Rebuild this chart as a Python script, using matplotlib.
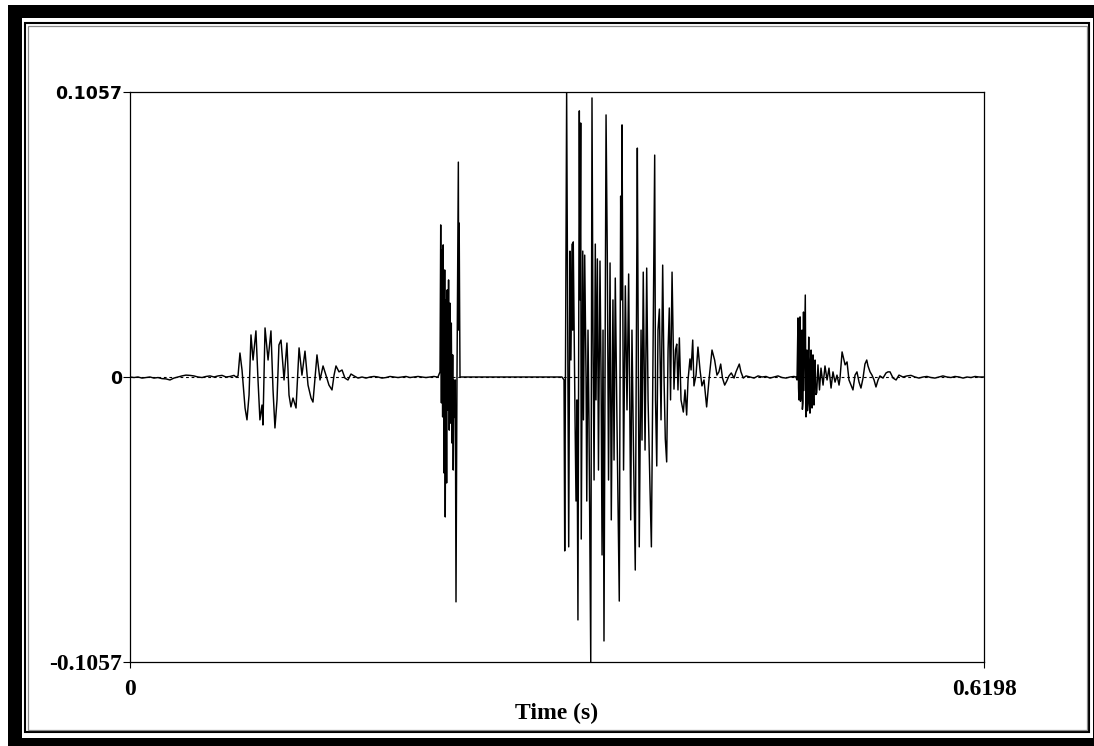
import matplotlib
matplotlib.use("Agg")
import matplotlib.pyplot as plt
from matplotlib.patches import Rectangle
import numpy as np

# Sound waveform, traced as turning points.
# Times are in ms, amplitudes in thousandths of the signal unit.
lead_noise_t = [0, 2.9, 5.8, 8.7, 11.6, 14.5, 17.4, 20.3, 23.2, 26.1, 29.0, 31.9, 34.8, 37.7,
                40.6, 43.5, 46.4, 49.3, 52.3, 55.2, 58.1, 61.0, 63.9, 66.8, 69.7, 72.6, 75.5, 76.9]
lead_noise_v = [0, -0.2, 0, -0.4, -0.2, 0, -0.4, -0.2, -0.6, -0.7, -1.1, -0.4, 0, 0.4,
                0.7, 0.6, 0.4, 0, -0.2, 0.2, 0.4, 0, 0.4, 0.6, 0, 0.2, 0.6, 0]

vowel1_t = [78.4, 79.8, 81.3, 83.5, 84.9, 86.4, 87.8, 89.3, 91.4, 92.9, 94.3, 95.8, 96.5, 98.0,
            100.2, 102.3, 103.8, 105.2, 106.7, 108.1, 109.6, 111.8, 113.9, 115.4, 116.8, 118.3,
            120.5, 122.7, 124.8, 127.0, 129.2, 131.4, 132.8, 135.7, 137.9, 140.1, 142.2, 144.4,
            146.6, 148.1, 149.5, 151.7, 153.9, 156.0, 158.2, 160.4, 162.6, 165.5]
vowel1_v = [0.4, 8.9, 2.6, -11.5, -15.9, -6.7, 15.6, 6.3, 17.1, -1.1, -15.9, -10.4, -17.8, 18.2,
            6.3, 17.1, -4.8, -18.9, -8.5, 11.9, 13.7, -1.1, 12.6, -6.7, -11.1, -7.8,
            -11.5, 10.8, 0.7, 9.6, -3.0, -7.8, -9.3, 8.2, -1.1, 4.1, 0.7, -3.0,
            -4.8, 0.7, 4.1, 1.9, 2.6, -0.4, -1.1, 1.1, 0.4, -0.4]

gap_noise_t = [168.4, 171.3, 174.2, 177.1, 180.0, 182.9, 185.8, 188.7, 191.6, 194.5, 197.4,
               200.3, 203.2, 206.1, 209.0, 211.9, 214.8, 217.7, 220.6, 222.8]
gap_noise_v = [0, -0.4, 0, 0.2, 0, -0.4, -0.2, 0.2, 0, -0.2, 0,
               0.2, -0.2, 0, 0.2, 0, -0.2, 0, 0.2, 0]

burst_t = [223.5, 225.0, 225.5, 226.0, 226.4, 226.9, 227.3, 227.9, 228.4, 228.8, 229.3, 229.8,
           230.2, 230.7, 231.2, 231.7, 232.2, 232.7, 233.2, 233.7, 234.2, 234.6, 235.1, 235.6,
           236.1, 236.6, 237.3, 238.3, 238.6, 238.9, 239.5]
burst_v = [0, 1.9, 56.4, -9.6, 47.1, -14.8, 49.0, -35.6, 39.7, -51.9, 28.6, -39.3,
           32.3, -12.2, 36.0, -19.7, 27.4, -17.1, 20.0, -24.5, 8.2, -34.5, -1.1, -15.0,
           -1.1, -83.4, -1.1, 79.7, 17.4, 57.1, 0]

closure_t = [240.5, 280.0, 313.5]
closure_v = [0, 0, 0]

vowel2_t = [315.0, 315.5, 316.9, 317.9, 318.4, 319.3, 320.0, 320.8, 321.3, 321.7, 323.0, 323.7,
            324.4, 325.1, 326.1, 326.6, 327.1, 327.5, 328.6, 329.1, 330.0, 331.0, 331.5, 332.4,
            333.1, 334.4, 335.3, 336.0, 336.8, 337.7, 338.2, 339.2, 340.0, 341.1, 341.9, 342.6,
            343.3, 344.0, 345.5, 346.4, 347.3, 348.4, 349.3, 350.5, 351.3, 352.2, 353.4, 355.1,
            356.1, 356.6, 357.1, 358.2, 359.5, 360.7, 361.9, 363.4, 364.3, 365.4, 366.7, 368.2,
            368.7, 369.6, 370.9, 371.6, 372.5, 373.8, 375.0, 376.0, 377.4, 378.4, 380.8, 381.4,
            382.3, 383.2, 384.2, 385.4, 386.6, 387.6, 388.5, 389.5, 390.5, 391.4, 392.3, 393.4,
            394.8, 395.9, 396.8, 397.7, 398.7, 399.9, 401.6, 402.8, 404.0, 405.0, 406.4, 407.2,
            408.4, 409.3, 410.8, 412.2, 413.7, 415.1, 416.6, 418.5, 420.2, 422.4, 423.5, 424.3,
            426.0, 427.4, 428.7, 430.0, 431.6, 433.1, 434.7, 436.4, 438.4, 439.8, 442.2, 443.4,
            445.1, 447.1]
vowel2_v = [-1.1, -64.5, 105.7, -8.5, -63.0, 46.7, 6.3, 49.3, 17.4, 50.1, -15.9, -46.0,
            -8.5, -90.1, 98.7, 28.6, 94.2, -60.1, 46.7, -15.9, 45.2, -1.1, -46.0, 17.4,
            -15.9, -105.7, 103.5, 17.4, -38.2, 49.3, -8.5, 43.8, -34.5, 43.0, -1.1, -66.0,
            17.4, -97.9, 97.2, 45.2, -38.2, 42.3, -53.0, 28.6, -30.8, 36.7, -15.9, -83.1,
            67.1, 28.6, 93.5, -34.5, 33.8, -12.2, 38.2, -53.0, 17.4, -27.1, -71.6, 84.9,
            28.6, -63.0, 17.4, -23.4, 38.9, -27.1, 40.4, -8.5, -41.5, -63.0, 82.3, -8.5,
            -33.0, 17.4, 25.2, -15.9, 41.5, -1.1, -23.0, -31.5, 10.0, 25.6, -8.5, 38.9,
            -4.5, 10.0, 12.2, -4.8, 14.5, -8.5, -13.0, -4.8, -14.1, -1.1, 6.7, 2.6,
            13.7, -3.3, 0.7, 11.1, 2.6, -3.3, -1.1, -11.1, -1.1, 10.0, 7.8, 6.3,
            0.7, 1.9, 4.8, -0.4, -3.0, -1.5, 0.4, 1.5, -0.4, 1.9, 4.8, 1.9,
            -0.4, 0.4]

mid_noise_t = [450.0, 452.9, 455.8, 458.7, 461.6, 464.5, 467.4, 470.3, 473.2, 476.1, 479.0, 481.9]
mid_noise_v = [0, -0.4, 0.4, 0, 0.2, -0.4, 0, 0.4, -0.2, -0.4, 0, 0.2]

fric_t = [483.3, 484.1, 484.8, 485.2, 485.5, 485.9, 486.3, 486.6, 487.0, 487.3, 487.7, 488.0,
          488.4, 488.8, 489.1, 489.4, 489.7, 490.1, 490.6, 490.9, 491.3, 491.7, 492.1, 492.6,
          492.9, 493.2, 493.5, 493.9, 494.3, 494.6, 495.0, 495.3, 495.7, 496.0, 496.4, 496.8,
          497.2, 497.8, 498.4, 499.3,
          500.4, 501.5, 503.0, 504.4, 505.9, 507.3, 508.8, 510.2, 511.7, 513.1, 514.6, 515.3,
          516.8, 518.2, 519.0, 520.4, 521.8, 523.3, 524.7, 526.2, 527.6, 529.1, 530.5, 532.0,
          533.4, 534.7, 535.6, 537.1, 538.5, 540.0, 541.4, 542.9, 544.3, 546.5, 548.7, 550.1,
          551.6, 553.8, 556.0, 558.1]
fric_v = [0, -1.1, 21.9, -4.0, -8.5, 15.0, 22.3, -9.0, -6.7, 12.0, 17.4, -12.0,
          -9.6, 24.1, -5.0, 6.3, 20.0, 30.4, -14.8, 2.0,
          10.0, -12.5, -8.5, 14.8, -6.0, -10.4, -13.4, 6.0, 10.0, -9.0, -11.5, 4.0,
          8.2, -8.0, -10.4, 3.0, 6.3, -6.5, -5.9, 4.5,
          -4.8, 3.3, -3.0, 4.1, -1.1, 3.3, -4.1, 1.9, -1.9, 0.7, -3.0, -0.4,
          9.3, 6.3, 4.5, 5.6, -1.1, -3.0, -4.8, 0.7, 1.9, -1.9, -4.1, -0.4,
          4.8, 6.3, 4.1, 1.9, 0.7, -1.1, -3.7, -1.1, 0.4, -0.4, 1.5, 1.9,
          1.9, -0.4, -1.1, 0.7]

tail_noise_t = [561.0, 563.9, 566.8, 569.7, 572.6, 575.5, 578.4, 581.3, 584.2, 587.1, 590.0,
                592.9, 595.8, 598.7, 601.7, 604.6, 607.5, 610.4, 613.3, 616.2, 619.8]
tail_noise_v = [0, 0.4, 0.6, 0, -0.4, 0, 0.2, -0.2, -0.4, 0, 0.4,
                0, -0.2, 0.2, 0, -0.4, 0, -0.2, 0.2, 0, 0]

duration = 0.6198
peak = 0.1057

t = np.concatenate([lead_noise_t, vowel1_t, gap_noise_t, burst_t, closure_t,
                    vowel2_t, mid_noise_t, fric_t, tail_noise_t]) / 1000.0
v = np.concatenate([lead_noise_v, vowel1_v, gap_noise_v, burst_v, closure_v,
                    vowel2_v, mid_noise_v, fric_v, tail_noise_v]) / 1000.0

W, H = 1094, 746
fig = plt.figure(figsize=(W / 100, H / 100), dpi=100)
fig.patch.set_facecolor("white")

# picture frame around everything, drawn in pixel units
frame = fig.add_axes([0, 0, 1, 1], zorder=0)
frame.set_xlim(0, W)
frame.set_ylim(H, 0)
frame.axis("off")
frame.add_patch(Rectangle((8, 5), 1200, 800, facecolor="black", edgecolor="none"))
frame.add_patch(Rectangle((22, 18), 1071, 720, facecolor="white", edgecolor="none"))
frame.add_patch(Rectangle((25, 23), 1064, 709, fill=False, edgecolor="black", lw=1.5))
frame.add_patch(Rectangle((27.5, 25.5), 1059, 704, fill=False, edgecolor="#8a8a8a", lw=0.9))

ax = fig.add_axes([130 / W, 84 / H, 854 / W, 570 / H], zorder=1)
ax.set_facecolor("white")
ax.axhline(0, color="black", lw=0.8, dashes=(2.5, 2.5))
ax.plot(t, v, color="black", lw=1.05)

ax.set_xlim(0, duration)
ax.set_ylim(-peak, peak)
for s in ax.spines.values():
    s.set_linewidth(0.9)

ax.set_xticks([0, duration])
ax.set_xticklabels(["0", "0.6198"])
ax.set_yticks([-peak, 0, peak])
ax.set_yticklabels(["-0.1057", "0", "0.1057"])
ax.tick_params(axis="y", direction="out", length=5, width=0.8, pad=0.5)
ax.tick_params(axis="x", direction="out", length=4, width=0.8, pad=8)

serif = dict(family="Liberation Serif", weight="bold", size=17)
sans = dict(family="DejaVu Sans", weight="bold", size=12.5)
for lab in ax.get_xticklabels():
    lab.set(**serif)
ylabs = ax.get_yticklabels()
ylabs[0].set(**serif)
ylabs[1].set(**sans)
ylabs[2].set(**sans)

ax.set_xlabel("Time (s)", labelpad=2, **serif)

fig.savefig("out.png", dpi=100)
